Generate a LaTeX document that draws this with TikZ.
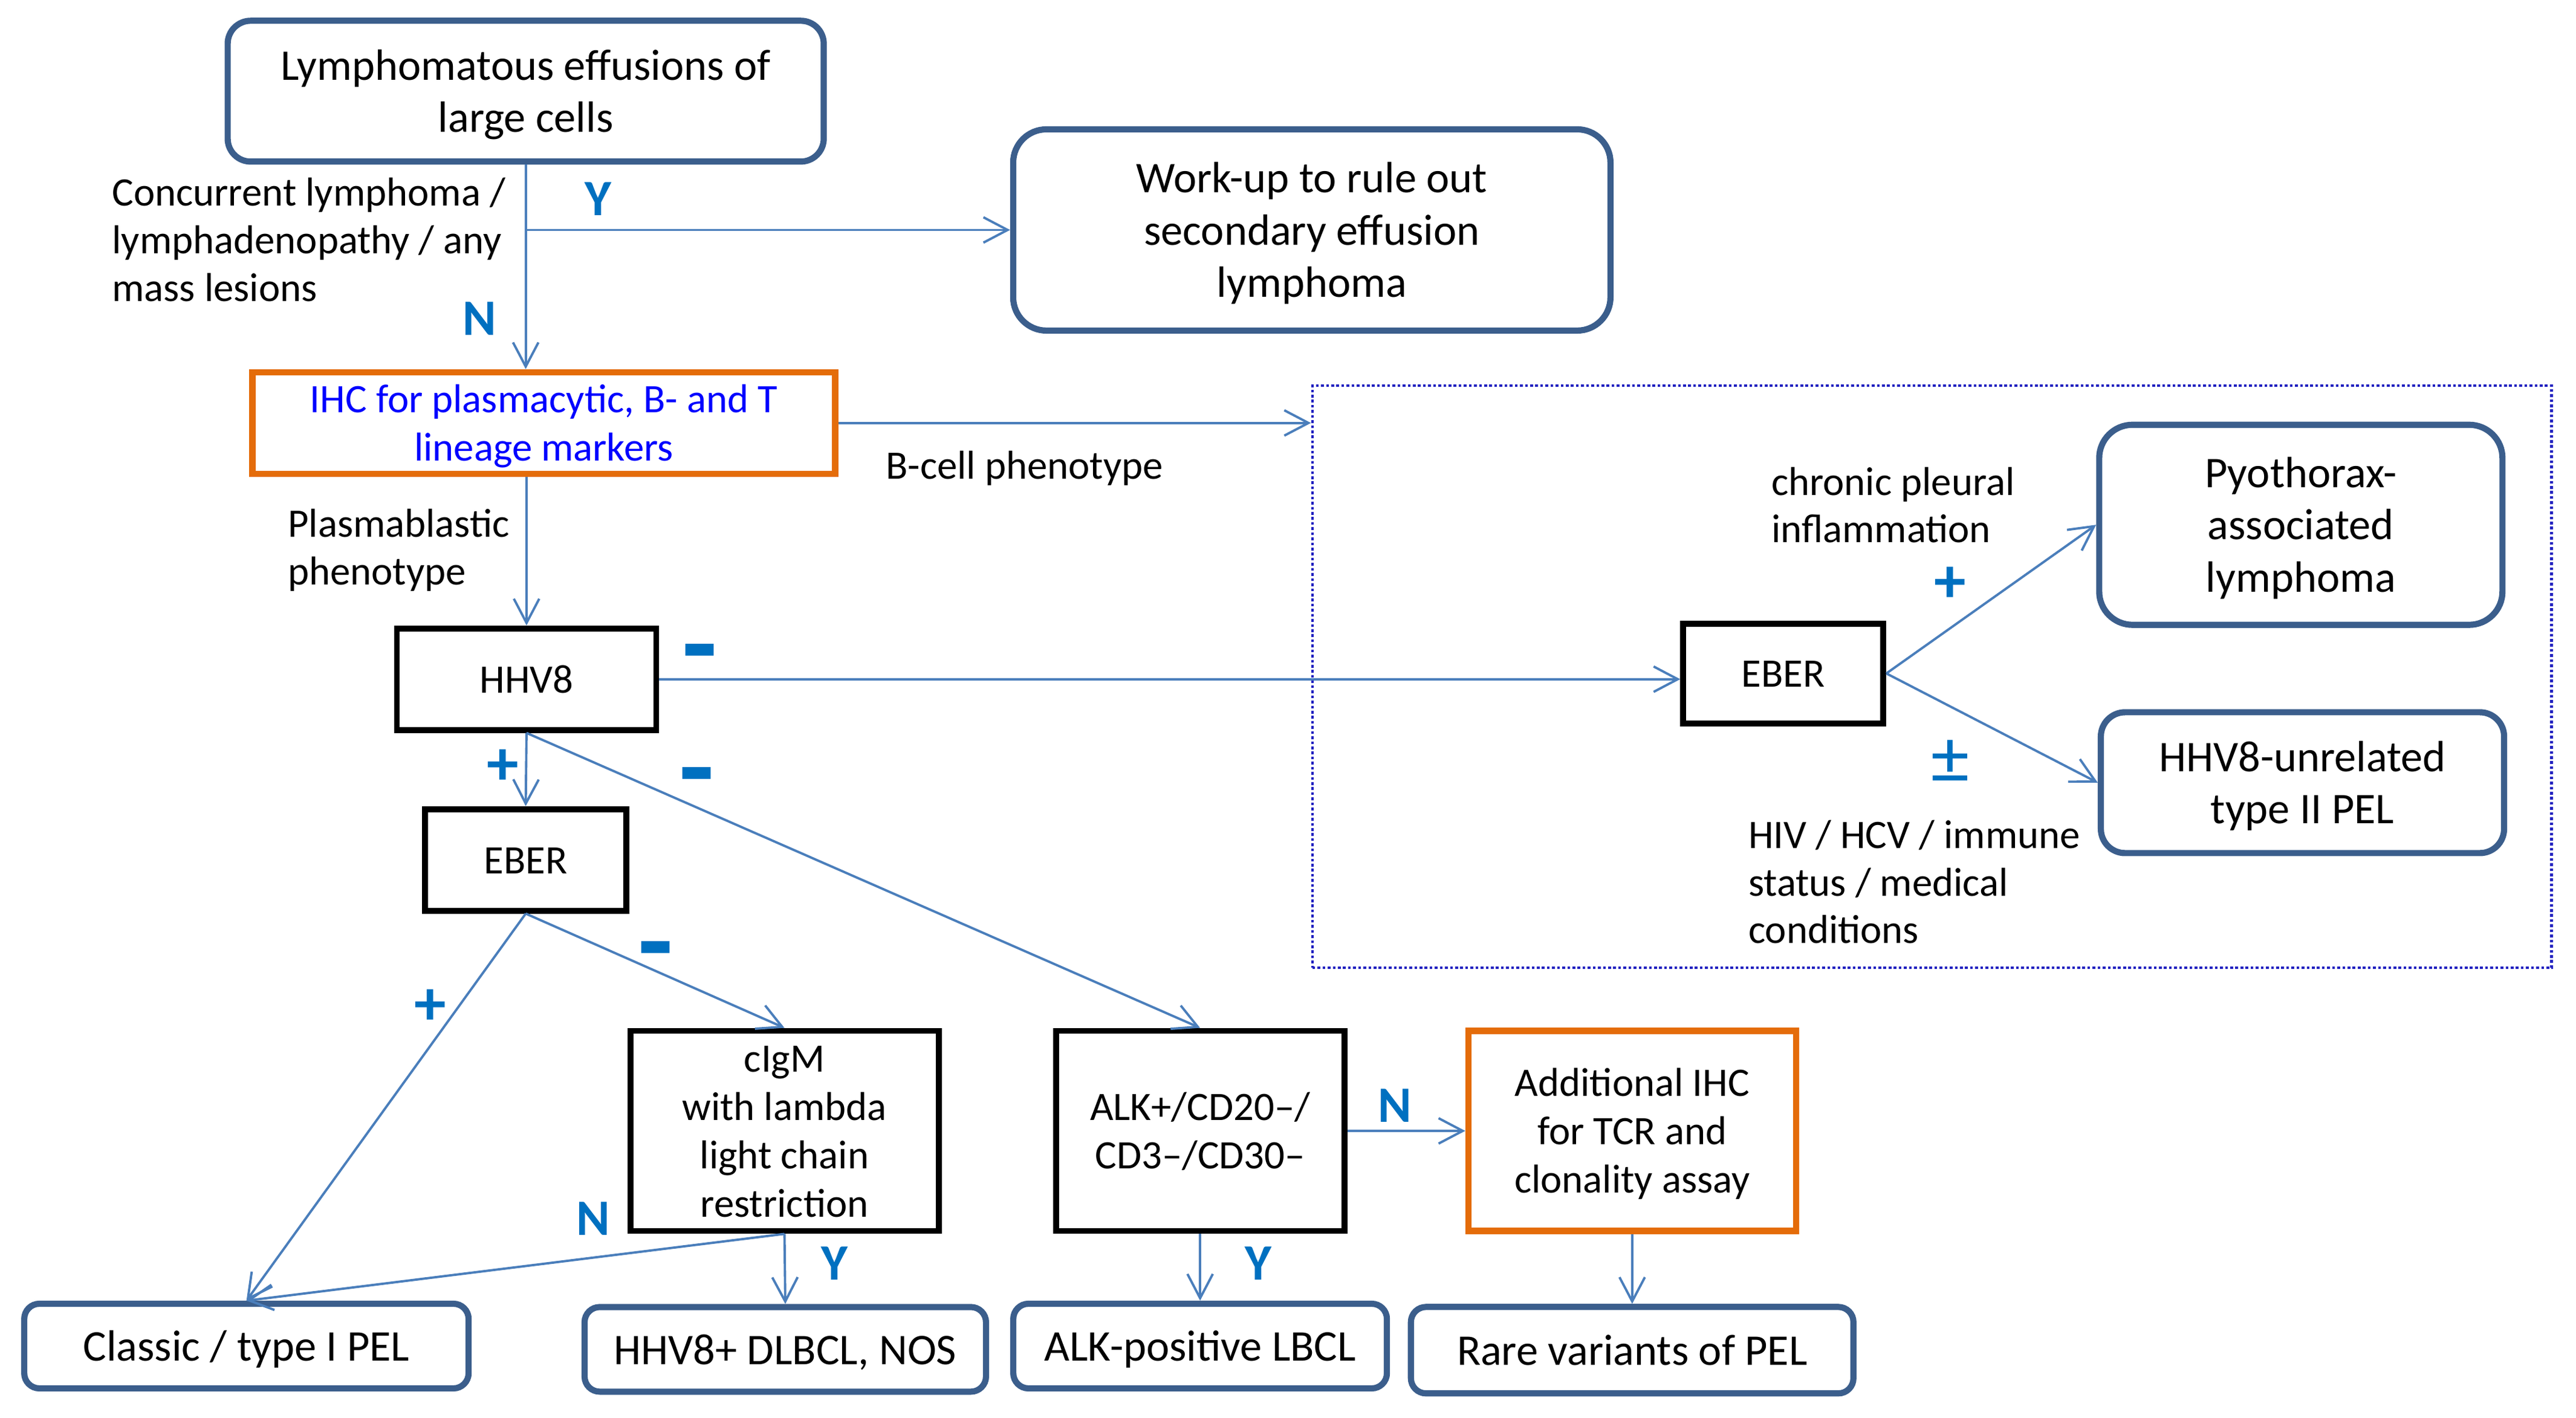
\documentclass[tikz,border=0pt]{standalone}
\usepackage{fontspec}
\setmainfont{Carlito}
\usetikzlibrary{arrows.meta}
\definecolor{boxblue}{HTML}{3B5E8C}
\definecolor{lineblue}{HTML}{4A7EBB}
\definecolor{signblue}{HTML}{0070C0}
\definecolor{ihcorange}{HTML}{E46C0A}
\definecolor{ihctext}{HTML}{0000FF}
\definecolor{dotblue}{HTML}{2020C0}
\newcommand\myTop{\rule{0pt}{0.95em}}
\newcommand\myBot{\rule[-0.27em]{0pt}{0pt}}
\begin{document}
\begin{tikzpicture}[x=0.027175cm,y=-0.027175cm,
  boxtext/.style={align=center, inner sep=0pt},
  rbox/.style={boxtext, draw=boxblue, line width=2.9pt,
    font=\fontsize{20.6}{24.6}\selectfont},
  bbox/.style={boxtext, draw=black, line width=2.8pt,
    font=\fontsize{19}{22.8}\selectfont},
  obox/.style={boxtext, draw=ihcorange, line width=2.9pt,
    font=\fontsize{19}{22.8}\selectfont},
  lbl/.style={align=left, inner sep=0pt, font=\fontsize{19}{22.4}\selectfont},
  yn/.style={text=signblue, inner sep=0pt, font=\fontsize{24}{24}\selectfont\bfseries},
  plus/.style={text=signblue, inner sep=0pt, font=\fontsize{30}{30}\selectfont\bfseries},
  minus/.style={text=signblue, inner sep=0pt, font=\fontsize{54}{54}\selectfont\bfseries},
  pm/.style={text=signblue, inner sep=0pt, font=\fontsize{36}{36}\selectfont},
  conn/.style={draw=lineblue, line width=1.1pt},
  arr/.style={conn, -{Straight Barb[length=0.40cm, width=0.42cm]}}
]
\useasboundingbox[fill=white] (0,0) rectangle (1568,863.3);

% dotted region
\node[draw=dotblue, line width=1.3pt, dash pattern=on 1.3pt off 1.1pt,
  minimum width=20.5cm, minimum height=9.63cm, inner sep=0pt] (bcell) at (1176,412) {};

% nodes
\node[rbox, rounded corners=0.38cm, minimum width=9.86cm, minimum height=2.33cm] (start) at (320,55.5)
  {\myTop Lymphomatous effusions of\\large cells\myBot};
\node[rbox, rounded corners=0.55cm, minimum width=9.88cm, minimum height=3.33cm] (work) at (798.5,140)
  {\myTop Work-up to rule out\\secondary effusion\\lymphoma\myBot};
\node[obox, text=ihctext, minimum width=9.64cm, minimum height=1.68cm] (ihc) at (331,257.5)
  {\myTop IHC for plasmacytic, B- and T\\lineage markers\myBot};
\node[bbox, minimum width=4.29cm, minimum height=1.68cm] (hhv8) at (320.5,413.5) {\myTop HHV8\myBot};
\node[bbox, minimum width=3.33cm, minimum height=1.68cm] (eberL) at (320,523.5) {\myTop EBER\myBot};
\node[bbox, minimum width=5.10cm, minimum height=3.31cm] (cigm) at (477.5,688.5)
  {\myTop cIgM\\with lambda\\light chain\\restriction\myBot};
\node[bbox, minimum width=4.77cm, minimum height=3.31cm] (alk) at (730.5,688.5)
  {\myTop ALK+/CD20–/\\CD3–/CD30–\myBot};
\node[obox, minimum width=5.42cm, minimum height=3.31cm] (add) at (993.5,688.5)
  {\myTop Additional IHC\\for TCR and\\clonality assay\myBot};
\node[rbox, rounded corners=0.25cm, minimum width=7.35cm, minimum height=1.40cm] (classic) at (150,819.5)
  {\myTop Classic / type I PEL\myBot};
\node[rbox, rounded corners=0.25cm, minimum width=6.64cm, minimum height=1.40cm] (hhv8p) at (478,821.5)
  {\myTop HHV8+ DLBCL, NOS\myBot};
\node[rbox, rounded corners=0.25cm, minimum width=6.18cm, minimum height=1.40cm] (alkpos) at (730.5,819.5)
  {\myTop ALK-positive LBCL\myBot};
\node[rbox, rounded corners=0.25cm, minimum width=7.32cm, minimum height=1.43cm] (rare) at (993.5,822)
  {\myTop Rare variants of PEL\myBot};
\node[bbox, minimum width=3.31cm, minimum height=1.65cm] (eberR) at (1085.5,410) {\myTop EBER\myBot};
\node[rbox, rounded corners=0.55cm, minimum width=6.67cm, minimum height=3.31cm] (pyo) at (1400.5,319.5)
  {\myTop Pyothorax-\\associated\\lymphoma\myBot};
\node[rbox, rounded corners=0.40cm, minimum width=6.67cm, minimum height=2.33cm] (unrel) at (1401.5,476.5)
  {\myTop HHV8-unrelated\\type II PEL\myBot};

% connectors
\draw[conn] (start.south) -- (start.south |- work.west) coordinate (j1);
\draw[arr] (j1) -- (work.west);
\draw[arr] (j1) -- (start.south |- ihc.north);
\draw[arr] (ihc.east) -- (ihc.east -| bcell.west);
\draw[arr] (hhv8.north |- ihc.south) -- (hhv8.north);
\draw[arr] (hhv8.east) -- (hhv8.east -| eberR.west);
\draw[arr] (hhv8.south) -- (eberL.north);
\draw[arr] (hhv8.south) -- (alk.north);
\draw[arr] (eberL.south) -- (cigm.north);
\draw[arr] (eberL.south) -- (classic.north);
\draw[arr] (cigm.south) -- (classic.north);
\draw[arr] (cigm.south) -- (hhv8p.north);
\draw[arr] (alk.south) -- (alkpos.north);
\draw[arr] (alk.east) -- (add.west);
\draw[arr] (add.south) -- (rare.north);
\draw[arr] (eberR.east) -- (pyo.west);
\draw[arr] (eberR.east) -- (unrel.west);

% labels
\node[lbl, anchor=west] (lconc) at (68,146)
  {Concurrent lymphoma /\\lymphadenopathy / any\\mass lesions};
\node[lbl, anchor=west] (lbcell) at (539,285) {B-cell phenotype};
\node[lbl, anchor=west] (lplasma) at (175,335) {Plasmablastic\\phenotype};
\node[lbl, anchor=west] (lchron) at (1078,307.5) {chronic pleural\\inflammation};
\node[lbl, anchor=west] (lhiv) at (1064,537) {HIV / HCV / immune\\status / medical\\conditions};

\node[yn] (y1) at (364,121) {Y};
\node[yn] (n1) at (292,194) {N};
\node[yn] (n2) at (361,742) {N};
\node[yn] (y2) at (508,769) {Y};
\node[yn] (y3) at (766,769) {Y};
\node[yn] (n3) at (849,673) {N};

\node[minus] (m1) at (426,404) {-};
\node[minus] (m2) at (424,479) {-};
\node[minus] (m3) at (399,585) {-};
\node[plus] (p1) at (306,467) {+};
\node[plus] (p2) at (262,613) {+};
\node[plus] (p3) at (1187,356) {+};
\node[pm] (pm1) at (1187,464) {±};
\end{tikzpicture}
\end{document}
